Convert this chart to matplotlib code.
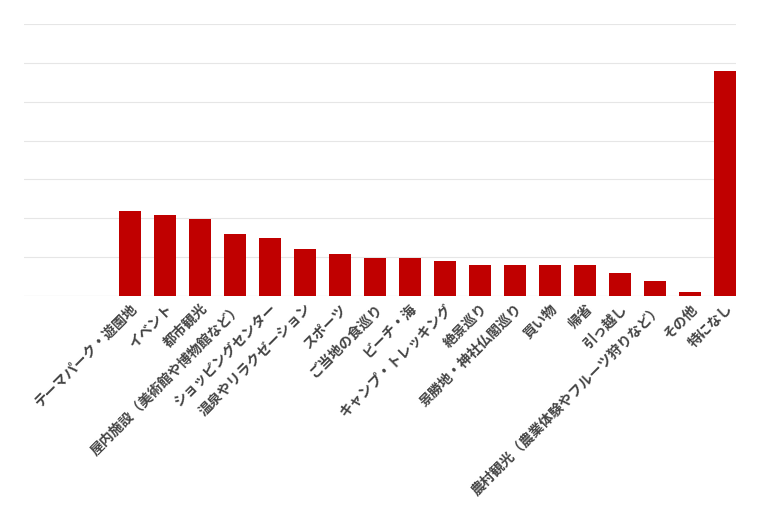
import matplotlib
matplotlib.use("Agg")
import matplotlib.pyplot as plt

categories = ["テーマパーク・遊園地","イベント","都市観光","屋内施設（美術館や博物館など）","ショッピングセンター",
              "温泉やリラクゼーション","スポーツ","ご当地の食巡り","ビーチ・海","キャンプ・トレッキング",
              "絶景巡り","景勝地・神社仏閣巡り","買い物","帰省","引っ越し","農村観光（農業体験やフルーツ狩りなど）",
              "その他","特になし"]
values = [10.9,10.4,9.9,8.0,7.5,6.0,5.4,4.9,4.9,4.5,4.0,4.0,4.0,4.0,3.0,1.9,0.5,28.9]

plt.rcParams['font.family'] = ['Noto Sans CJK JP', 'DejaVu Sans']
fig = plt.figure(figsize=(7.6,5.07), dpi=100)
ax = fig.add_axes([24/760, 1-296/507, 712/760, 272/507])
x = list(range(len(categories)))
ax.bar(x, values, width=0.63, color="#c00000", zorder=3)
ax.set_xlim(-3.03, 17.31)
ax.set_ylim(0, 35)
ax.set_yticks(range(0,36,5))
ax.set_yticklabels([])
ax.tick_params(length=0)
ax.grid(axis='y', color='#e6e6e6', linewidth=0.8, zorder=0)
for s in ax.spines.values():
    s.set_visible(False)
ax.axhline(0, color='#e6e6e6', linewidth=0.8, zorder=1)
ax.set_xticks(x)
ax.set_xticklabels(categories, rotation=45, ha='right', rotation_mode='anchor',
                   fontsize=10, fontweight='bold', color='#444444')
ax.tick_params(axis='x', pad=4)
fig.savefig("out.png", dpi=100)
